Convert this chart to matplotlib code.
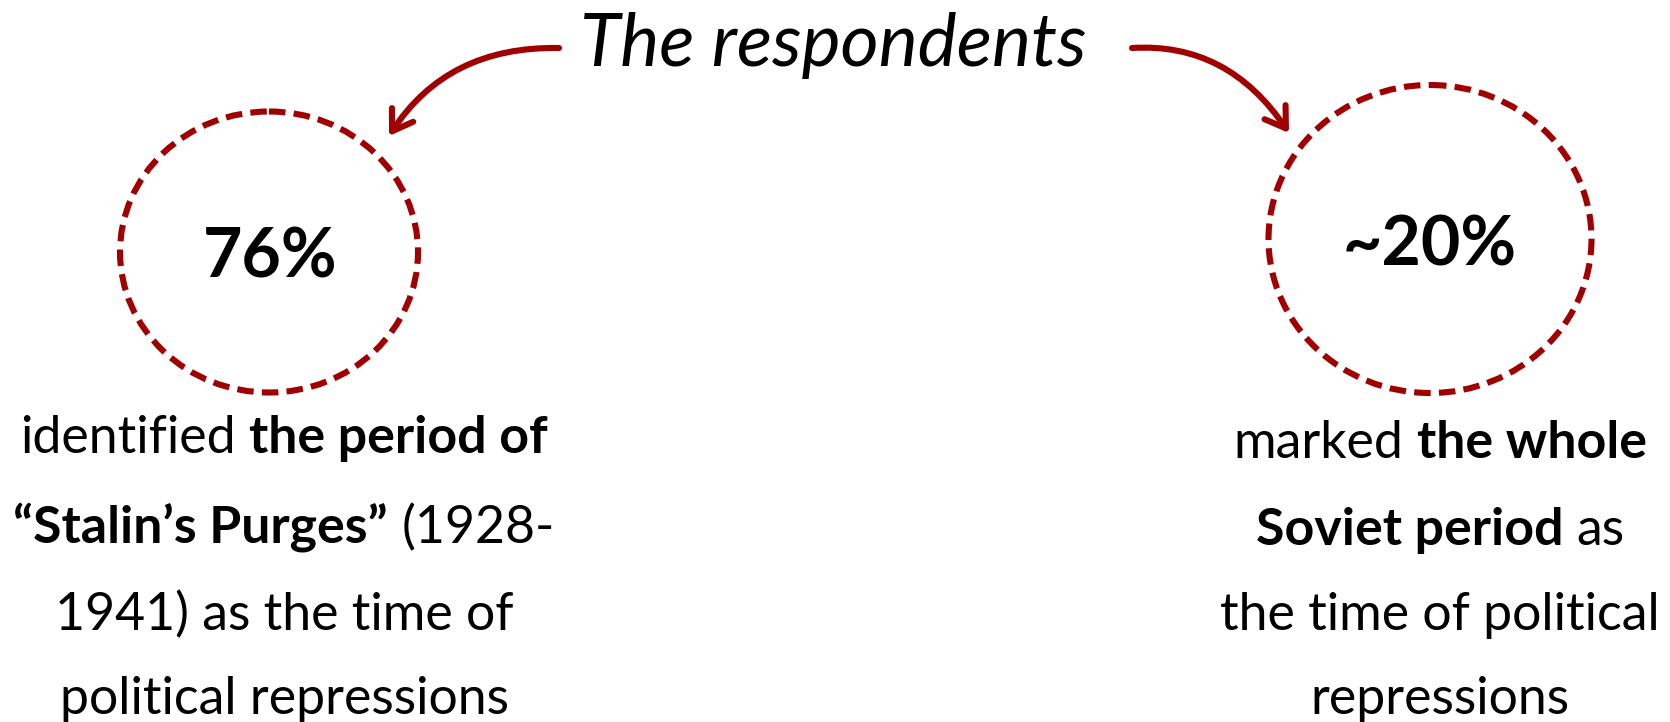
import matplotlib
matplotlib.use("Agg")
import matplotlib.pyplot as plt
from matplotlib.patches import Ellipse, FancyArrowPatch
from matplotlib.path import Path

# ---- data ----
title = "The respondents"
percent_labels = ["76%", "~20%"]
left_lines = [
    [("identified", False), ("the period of", True)],
    [("\u201cStalin\u2019s Purges\u201d", True), ("(1928-", False)],
    [("1941) as the time of", False)],
    [("political repressions", False)],
]
right_lines = [
    [("marked", False), ("the whole", True)],
    [("Soviet period", True), ("as", False)],
    [("the time of political", False)],
    [("repressions", False)],
]

RED = "#A00000"
FAM = ["Lato", "DejaVu Sans"]
W, H = 1670, 722

fig = plt.figure(figsize=(W / 100, H / 100), dpi=100)
ax = fig.add_axes([0, 0, 1, 1])
ax.set_xlim(0, W)
ax.set_ylim(H, 0)
ax.axis("off")
renderer = fig.canvas.get_renderer()


def tw(txt, size, bold=False, style="normal", weight=None):
    wt = weight if weight is not None else ("bold" if bold else "normal")
    kw = dict(fontsize=size, family=FAM, fontweight=wt, fontstyle=style)
    t1 = ax.text(0, 0, "|" + txt + "|", **kw)
    t2 = ax.text(0, 0, "||", **kw)
    w = t1.get_window_extent(renderer).width - t2.get_window_extent(renderer).width
    t1.remove(); t2.remove()
    return w


def line_w(pieces, size):
    total = 0
    for i, (txt, b) in enumerate(pieces):
        total += tw(txt, size, b)
        if i > 0:
            total += tw(" ", size, False)
    return total


def draw_line(pieces, cx, y, size):
    total = line_w(pieces, size)
    x = cx - total / 2
    for i, (txt, b) in enumerate(pieces):
        if i > 0:
            x += tw(" ", size, False)
        ax.text(x, y, txt, fontsize=size, family=FAM,
                fontweight="bold" if b else "normal",
                ha="left", va="baseline", color="black")
        x += tw(txt, size, b)


# body blocks
base = 30
lw_left = line_w(left_lines[0], base)
size_left = base * 526 / lw_left
lw_right = line_w(right_lines[2], base)
size_right = base * 442 / lw_right
size_body = (size_left + size_right) / 2

left_base = [453, 543, 630, 714]
right_base = [458, 545, 630, 714]
for pieces, y in zip(left_lines, left_base):
    draw_line(pieces, 284, y, size_body)
for pieces, y in zip(right_lines, right_base):
    draw_line(pieces, 1440, y, size_body)

# circles
ax.add_patch(Ellipse((269, 252), 298, 281, fill=False, ec=RED, lw=4.4,
                     linestyle=(0, (2.7, 1.35))))
ax.add_patch(Ellipse((1430, 239), 323, 308, fill=False, ec=RED, lw=4.4,
                     linestyle=(0, (2.7, 1.35))))

# percent labels
ax.text(270, 278, percent_labels[0], fontsize=49, family=FAM, fontweight="bold",
        ha="center", va="baseline", color="black")
ax.text(1430, 265, percent_labels[1], fontsize=49, family=FAM, fontweight="bold",
        ha="center", va="baseline", color="black")

# title
tsize = 40 * 506 / tw(title, 40, style="italic", weight="normal")
ax.text(833, 66, title, fontsize=tsize, family=FAM, fontstyle="italic",
        fontweight="normal", ha="center", va="baseline", color="black")

# arrows
for verts in ([(559, 48), (447, 46), (389, 136)],
              [(1132, 48), (1228, 42), (1289, 133)]):
    p = Path(verts, [Path.MOVETO, Path.CURVE3, Path.CURVE3])
    ax.add_patch(FancyArrowPatch(path=p, arrowstyle="->,head_length=1.0,head_width=0.65",
                                 mutation_scale=14, lw=4.4, color=RED,
                                 shrinkA=0, shrinkB=0, capstyle="round", joinstyle="round"))

fig.savefig("out.png", dpi=100, facecolor="white")
